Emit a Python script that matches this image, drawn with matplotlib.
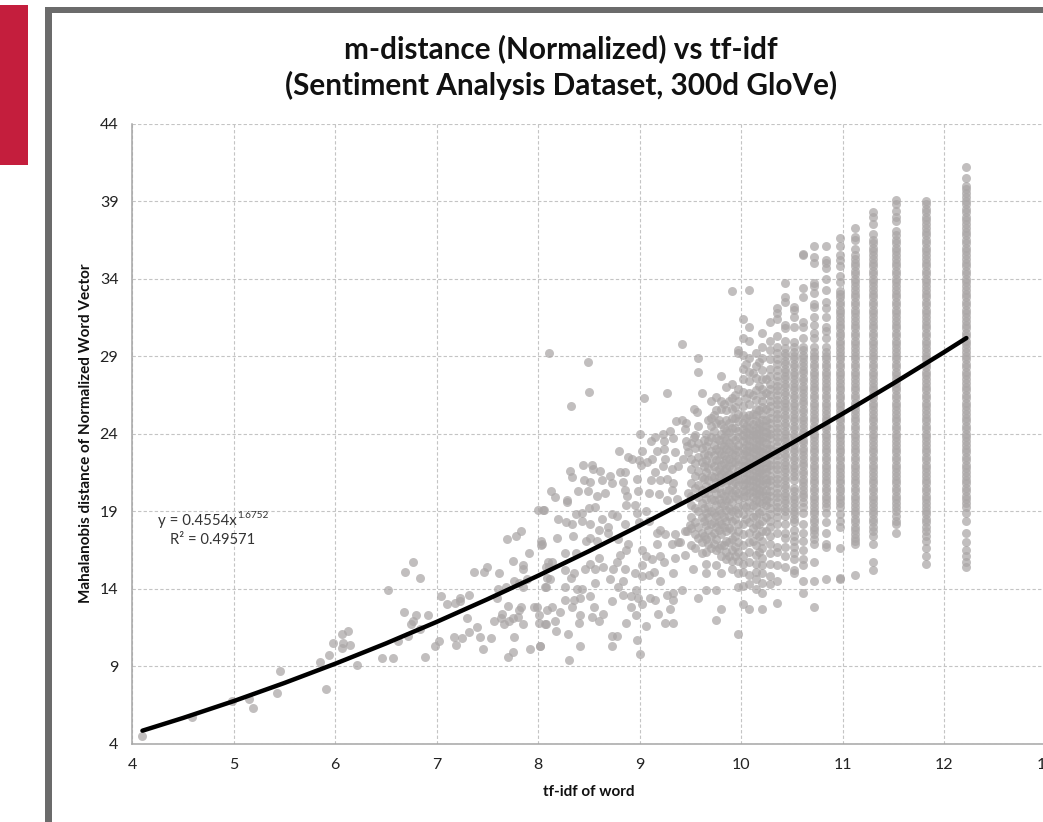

import matplotlib

matplotlib.use("Agg")

import matplotlib.pyplot as plt
from matplotlib.patches import Rectangle

W, H = 1043, 822

x_ticks = [4, 5, 6, 7, 8, 9, 10, 11, 12, 13]
y_ticks = [4, 9, 14, 19, 24, 29, 34, 39, 44]

title = "m-distance (Normalized) vs tf-idf\n(Sentiment Analysis Dataset, 300d GloVe)"
x_label = "tf-idf of word"
y_label = "Mahalanobis distance of Normalized Word Vector"

trend_x = [4.1, 4.5, 5, 5.5, 6, 6.5, 7, 7.5, 8, 8.5, 9, 9.5, 10, 10.5, 11, 11.5, 12, 12.22]
trend_y = [4.84, 5.66, 6.75, 7.92, 9.16, 10.47, 11.86, 13.32, 14.84, 16.42, 18.07, 19.78,
           21.55, 23.39, 25.29, 27.24, 29.26, 30.17]

# discrete tf-idf values on the right, one list of distances each
col_1222 = [41.2, 40.5, 40.0, 39.8, 39.5, 39.3, 39.0, 38.8, 38.5, 38.3, 38.0, 37.8, 37.5, 37.3, 37.0, 36.8, 36.5, 36.3,
            36.0, 35.8, 35.5, 35.3, 35.0, 34.8, 34.5, 34.3, 34.0, 33.8, 33.5, 33.3, 33.0, 32.8, 32.5, 32.3, 32.0, 31.8,
            31.5, 31.3, 31.0, 30.8, 30.5, 30.3, 30.0, 29.8, 29.5, 29.3, 29.0, 28.8, 28.5, 28.3, 28.0, 27.8, 27.5, 27.3,
            27.0, 26.8, 26.5, 26.3, 26.0, 25.8, 25.5, 25.3, 25.0, 24.8, 24.5, 24.3, 24.0, 23.8, 23.5, 23.3, 23.0, 22.8,
            22.5, 22.3, 22.0, 21.8, 21.5, 21.3, 21.0, 20.8, 20.5, 20.3, 20.0, 19.8, 19.5, 19.3, 18.9, 18.4, 17.6, 17.0,
            16.5, 16.1, 15.7, 15.4]
col_1182 = [39.0, 38.8, 38.5, 38.3, 38.0, 37.8, 37.5, 37.3, 37.0, 36.8, 36.5, 36.3, 36.0, 35.8, 35.5, 35.3, 35.0, 34.8,
            34.5, 34.3, 34.0, 33.8, 33.5, 33.3, 33.0, 32.8, 32.5, 32.3, 32.0, 31.8, 31.5, 31.3, 31.0, 30.8, 30.5, 30.3,
            30.0, 29.8, 29.5, 29.3, 29.0, 28.8, 28.5, 28.3, 28.0, 27.8, 27.5, 27.3, 27.0, 26.8, 26.5, 26.3, 26.0, 25.8,
            25.5, 25.3, 25.0, 24.8, 24.5, 24.3, 24.0, 23.8, 23.5, 23.3, 23.0, 22.8, 22.5, 22.3, 22.0, 21.8, 21.5, 21.3,
            21.0, 20.8, 20.5, 20.3, 20.0, 19.8, 19.5, 19.3, 19.0, 18.8, 18.5, 18.3, 18.0, 17.7, 17.4, 17.1, 16.6, 16.1, 15.6]
col_1153 = [39.1, 38.8, 38.4, 38.0, 37.7, 37.1, 36.8, 36.5, 36.3, 36.0, 35.8, 35.5, 35.3, 35.0, 34.8, 34.5, 34.3, 34.0,
            33.8, 33.5, 33.3, 33.0, 32.8, 32.5, 32.3, 32.0, 31.8, 31.5, 31.3, 31.0, 30.8, 30.5, 30.3, 30.0, 29.8, 29.5,
            29.3, 29.0, 28.8, 28.5, 28.3, 28.0, 27.8, 27.5, 27.3, 27.0, 26.8, 26.5, 26.3, 26.0, 25.8, 25.5, 25.3, 25.0,
            24.8, 24.5, 24.3, 24.0, 23.8, 23.5, 23.3, 23.0, 22.8, 22.5, 22.3, 22.0, 21.8, 21.5, 21.3, 21.0, 20.8, 20.5,
            20.3, 20.0, 19.8, 19.5, 19.3, 19.0, 18.7, 18.4, 18.2, 17.6]
col_1130 = [38.3, 38.0, 37.5, 36.9, 36.5, 36.3, 36.0, 35.8, 35.5, 35.3, 35.0, 34.8, 34.5, 34.3, 34.0, 33.8, 33.5, 33.3,
            33.0, 32.8, 32.5, 32.3, 32.0, 31.8, 31.5, 31.3, 31.0, 30.8, 30.5, 30.3, 30.0, 29.8, 29.5, 29.3, 29.0, 28.8,
            28.5, 28.3, 28.0, 27.8, 27.5, 27.3, 27.0, 26.8, 26.5, 26.3, 26.0, 25.8, 25.5, 25.3, 25.0, 24.8, 24.5, 24.3,
            24.0, 23.8, 23.5, 23.3, 23.0, 22.8, 22.5, 22.3, 22.0, 21.8, 21.5, 21.3, 21.0, 20.8, 20.5, 20.3, 20.0, 19.8,
            19.5, 19.3, 19.0, 18.8, 18.5, 18.3, 18.0, 17.7, 17.4, 16.9, 15.7, 15.2]
col_1112 = [37.3, 36.7, 36.5, 35.9, 35.5, 35.3, 35.0, 34.8, 34.5, 34.3, 34.0, 33.8, 33.5, 33.3, 33.0, 32.8, 32.5, 32.3,
            32.0, 31.8, 31.5, 31.3, 31.0, 30.8, 30.5, 30.3, 30.0, 29.8, 29.5, 29.3, 29.0, 28.8, 28.5, 28.3, 28.0, 27.8,
            27.5, 27.3, 27.0, 26.8, 26.5, 26.3, 26.0, 25.8, 25.5, 25.3, 25.0, 24.8, 24.5, 24.3, 24.0, 23.8, 23.5, 23.3,
            23.0, 22.8, 22.5, 22.3, 22.0, 21.8, 21.5, 21.3, 21.0, 20.8, 20.5, 20.3, 20.0, 19.8, 19.5, 19.3, 19.0, 18.8,
            18.5, 18.3, 18.0, 17.8, 17.5, 17.3, 17.1, 16.9, 14.9]
col_1097 = [36.6, 36.1, 35.5, 35.2, 34.8, 34.2, 33.8, 33.2, 33.0, 32.8, 32.5, 32.3, 32.0, 31.8, 31.5, 31.3, 31.0, 30.8,
            30.5, 30.3, 30.0, 29.8, 29.5, 29.3, 29.0, 28.8, 28.5, 28.3, 28.0, 27.8, 27.5, 27.3, 27.0, 26.8, 26.5, 26.3,
            26.0, 25.8, 25.5, 25.3, 25.0, 24.8, 24.5, 24.3, 24.0, 23.8, 23.5, 23.3, 23.0, 22.8, 22.5, 22.3, 22.0, 21.8,
            21.5, 21.3, 21.0, 20.8, 20.5, 20.3, 20.0, 19.8, 19.5, 19.3, 18.8, 18.4, 18.0, 16.6, 14.7, 14.6]
col_1084 = [36.1, 35.2, 35.0, 34.7, 34.0, 33.3, 32.5, 32.1, 31.5, 30.9, 30.6, 30.2, 29.6, 29.3, 29.0, 28.8, 28.5, 28.3,
            28.0, 27.8, 27.5, 27.3, 27.0, 26.8, 26.5, 26.3, 26.0, 25.8, 25.5, 25.3, 25.0, 24.8, 24.5, 24.3, 24.0, 23.8,
            23.5, 23.3, 23.0, 22.8, 22.5, 22.3, 22.0, 21.8, 21.5, 21.3, 21.0, 20.8, 20.5, 20.3, 20.0, 19.8, 19.5, 19.3,
            18.9, 18.3, 17.6, 16.9, 16.7, 14.6]
col_1072 = [36.1, 35.4, 35.0, 33.7, 33.5, 33.1, 32.4, 32.2, 31.5, 31.0, 30.5, 30.2, 29.6, 29.3, 29.0, 28.8, 28.5, 28.3,
            28.0, 27.8, 27.5, 27.3, 27.0, 26.8, 26.5, 26.3, 26.0, 25.8, 25.5, 25.3, 25.0, 24.8, 24.5, 24.3, 24.0, 23.8,
            23.5, 23.3, 23.0, 22.8, 22.5, 22.3, 22.0, 21.8, 21.5, 21.3, 21.0, 20.8, 20.5, 20.3, 20.0, 19.8, 19.5, 19.3,
            19.0, 18.8, 18.5, 18.3, 18.0, 17.8, 17.5, 17.2, 16.9, 15.7, 14.5, 12.8]
col_1061 = [35.6, 35.5, 33.4, 32.8, 31.2, 30.9, 30.2, 29.6, 29.4, 29.1, 28.9, 28.6, 28.4, 28.1, 27.9, 27.6, 27.4, 27.1,
            26.9, 26.6, 26.4, 26.1, 25.9, 25.6, 25.4, 25.1, 24.9, 24.6, 24.4, 24.1, 23.9, 23.6, 23.4, 23.1, 22.9, 22.6,
            22.4, 22.1, 21.9, 21.6, 21.4, 21.1, 20.9, 20.6, 20.4, 20.1, 19.9, 19.6, 19.3, 18.9, 18.2, 17.6, 17.1, 16.5,
            15.9, 15.5, 14.5, 13.7]
col_1052 = [32.2, 32.0, 31.5, 30.9, 29.9, 29.6, 29.3, 29.0, 28.8, 28.5, 28.3, 28.0, 27.8, 27.5, 27.3, 27.0, 26.8, 26.5,
            26.3, 26.0, 25.8, 25.5, 25.3, 25.0, 24.8, 24.5, 24.3, 24.0, 23.8, 23.5, 23.3, 23.0, 22.8, 22.5, 22.3, 22.0,
            21.8, 21.5, 21.3, 21.0, 20.5, 20.3, 20.0, 19.8, 19.5, 19.3, 19.0, 18.8, 18.5, 18.3, 17.8, 17.4, 17.1, 16.7,
            16.3, 15.9, 15.2, 15.0]
col_1043 = [33.7, 32.8, 32.5, 31.0, 30.8, 30.0, 29.5, 29.2, 29.0, 28.7, 28.5, 28.2, 28.0, 27.7, 27.5, 27.2, 27.0, 26.7,
            26.5, 26.2, 26.0, 25.7, 25.5, 25.2, 25.0, 24.7, 24.5, 24.2, 24.0, 23.7, 23.5, 23.2, 23.0, 22.7, 22.5, 22.2,
            22.0, 21.7, 21.5, 21.2, 21.0, 20.7, 20.5, 20.2, 20.0, 19.7, 19.5, 19.2, 19.0, 18.7, 18.2, 17.6, 17.3, 16.7,
            16.1, 15.4]
col_1035 = [32.1, 31.8, 31.4, 30.3, 29.6, 29.2, 28.8, 28.5, 28.1, 27.7, 27.4, 27.1, 26.8, 26.5, 26.2, 25.9, 25.6, 25.3,
            25.0, 24.7, 24.4, 24.1, 23.8, 23.5, 23.2, 22.9, 22.6, 22.3, 22.0, 21.7, 21.4, 21.1, 20.8, 20.5, 20.2, 19.9,
            19.6, 19.3, 19.0, 18.6, 18.2, 17.6, 16.7, 16.4, 15.5, 14.5, 13.1]
col_1028 = [31.2, 30.0, 29.4, 28.8, 28.2, 27.7, 27.2, 26.9, 26.5, 26.1, 25.8, 25.4, 25.0, 24.7, 24.3, 24.0, 23.7, 23.3,
            23.0, 22.7, 22.3, 22.0, 21.7, 21.3, 21.0, 20.7, 20.3, 20.0, 19.6, 19.2, 18.8, 18.4, 18.0, 17.4, 16.9, 16.3,
            15.6, 14.8, 14.3]
col_1025 = [27.5, 26.6, 25.6, 24.9, 24.5, 24.1, 23.8, 23.4, 23.0, 22.6, 22.2, 21.8, 21.5, 21.1, 20.8, 20.4, 20.0, 19.7,
            19.4, 18.6, 17.7]
col_1021 = [30.5, 29.6, 28.9, 28.1, 27.5, 26.9, 26.5, 26.1, 25.7, 25.3, 24.9, 24.5, 24.2, 23.8, 23.5, 23.1, 22.8, 22.4,
            22.1, 21.7, 21.4, 21.0, 20.7, 20.3, 20.0, 19.5, 19.0, 18.4, 17.7, 17.1, 16.6, 16.0, 15.5, 15.0, 14.4, 13.7, 12.7]
col_1018 = [28.6, 27.1, 25.5, 24.7, 24.3, 24.0, 23.6, 23.3, 22.9, 22.5, 22.2, 21.8, 21.5, 21.2, 20.8, 20.4, 20.1, 19.6,
            18.9, 18.2, 17.4, 16.4]
col_1015 = [29.2, 28.4, 27.6, 26.8, 26.2, 25.6, 25.2, 24.8, 24.4, 24.0, 23.7, 23.3, 23.0, 22.6, 22.3, 21.9, 21.6, 21.2,
            20.9, 20.5, 20.1, 19.7, 19.3, 18.7, 18.1, 17.5, 16.8, 16.2, 15.6, 15.1, 14.6, 14.0]
col_1012 = [27.9, 26.5, 25.3, 24.6, 24.2, 23.9, 23.5, 23.1, 22.8, 22.4, 22.0, 21.7, 21.3, 21.0, 20.6, 20.3, 19.9, 19.4,
            18.6, 17.9, 17.1]
col_1008 = [33.3, 30.9, 30.0, 28.9, 28.0, 27.4, 26.6, 25.9, 25.2, 24.8, 24.4, 24.0, 23.6, 23.2, 22.9, 22.5, 22.1, 21.8,
            21.4, 21.0, 20.6, 20.2, 19.6, 19.0, 18.3, 17.6, 17.0, 16.4, 15.7, 14.9, 14.3, 12.7]
col_1005 = [28.5, 26.3, 25.0, 24.5, 24.1, 23.7, 23.3, 22.9, 22.6, 22.2, 21.9, 21.5, 21.1, 20.8, 20.4, 20.0, 19.3, 18.5]
col_1002 = [31.4, 30.2, 29.1, 28.2, 27.5, 26.7, 25.8, 25.2, 24.7, 24.3, 23.9, 23.5, 23.1, 22.7, 22.3, 21.9, 21.5, 21.1,
            20.7, 20.3, 19.9, 19.4, 18.8, 18.2, 17.5, 16.8, 16.1, 15.6, 15.1, 14.2, 13.0]
col_997 = [29.4, 29.2, 26.9, 26.1, 25.3, 24.8, 24.2, 23.8, 23.3, 22.9, 22.4, 22.0, 21.6, 21.1, 20.7, 20.2, 19.8, 19.3,
           18.9, 18.2, 17.7, 17.0, 16.4, 15.8, 15.0, 14.1, 11.1]
col_994 = [26.5, 25.7, 25.0, 24.4, 23.6, 23.0, 22.6, 22.2, 21.3, 20.9, 20.4, 20.0, 19.1, 18.5, 17.4, 16.7, 16.1]
col_991 = [33.2, 27.2, 26.3, 25.6, 25.0, 24.4, 23.8, 23.2, 22.7, 22.2, 21.7, 21.2, 20.7, 20.2, 19.6, 19.0,
           18.4, 17.8, 17.2, 16.5, 15.8, 15.3]
col_988 = [26.1, 24.7, 24.1, 23.4, 22.9, 22.4, 21.9, 21.4, 21.0, 20.4, 19.8, 19.2, 18.7, 17.9, 17.0, 16.1]
col_985 = [27.0, 25.5, 24.9, 24.2, 23.6, 23.0, 22.4, 21.8, 21.3, 20.8, 20.3, 19.7, 19.1, 18.4, 17.7, 17.1, 16.4, 15.9]
col_983 = [25.9, 24.4, 23.8, 23.2, 22.6, 22.1, 21.6, 21.0, 20.0, 19.4, 18.6, 18.0, 16.8]
col_980 = [27.7, 26.1, 25.6, 24.6, 24.0, 23.3, 22.7, 22.0, 21.4, 20.9, 20.2, 19.5, 18.9, 18.2, 17.5, 16.8, 16.1, 15.0, 12.7]
col_978 = [24.9, 23.6, 22.9, 22.3, 21.7, 21.2, 20.5, 19.8, 19.1, 18.4, 17.8, 16.6]
col_975 = [26.4, 25.5, 24.7, 23.7, 23.0, 22.3, 21.6, 20.9, 20.1, 19.4, 18.7, 18.0, 17.2, 16.5, 15.5, 13.9, 12.0]
col_973 = [25.2, 24.2, 23.3, 22.6, 21.9, 21.2, 20.5, 19.7, 18.9, 18.3, 17.6, 16.9]
col_970 = [26.1, 25.0, 24.5, 23.8, 22.9, 22.1, 21.3, 20.5, 19.8, 19.0, 18.2, 17.4, 16.6]
col_967 = [24.9, 23.5, 22.6, 21.8, 21.0, 20.2, 19.3, 18.6, 17.8, 16.9]
col_965 = [24.0, 23.2, 22.3, 21.5, 20.6, 19.8, 18.9, 18.1, 17.2, 16.4, 15.6, 15.0, 13.9]
col_963 = [23.6, 22.7, 21.9, 21.1, 20.2, 19.2, 18.4, 17.4]
col_961 = [26.6, 23.1, 22.2, 21.2, 20.4, 19.5, 18.6, 17.6, 17.0, 16.3]
col_958 = [24.5, 23.4, 22.5, 21.6, 20.7, 19.9, 19.0, 18.0, 17.3]
col_955 = [23.9, 23.1, 22.1, 21.3, 20.5, 19.2, 18.3, 17.5, 16.6]
col_951 = [23.4, 22.4, 21.7, 20.8, 20.0, 19.4, 18.6, 17.9, 16.8]

column_x = [12.22, 11.82, 11.53, 11.30, 11.12, 10.97, 10.84, 10.72, 10.61, 10.52, 10.43, 10.35, 10.28, 10.25, 10.21,
            10.18, 10.15, 10.12, 10.08, 10.05, 10.02, 9.97, 9.94, 9.91, 9.88, 9.85, 9.83, 9.80, 9.78, 9.75, 9.73, 9.70,
            9.67, 9.65, 9.63, 9.61, 9.58, 9.55, 9.51]
column_y = [col_1222, col_1182, col_1153, col_1130, col_1112, col_1097, col_1084, col_1072, col_1061, col_1052,
            col_1043, col_1035, col_1028, col_1025, col_1021, col_1018, col_1015, col_1012, col_1008, col_1005,
            col_1002, col_997, col_994, col_991, col_988, col_985, col_983, col_980, col_978, col_975, col_973,
            col_970, col_967, col_965, col_963, col_961, col_958, col_955, col_951]

# scattered words further left
cloud_x = [4.10, 4.59, 4.98, 5.15, 5.19, 5.43, 5.46, 5.85, 5.91, 5.94, 5.98, 6.07, 6.08, 6.07, 6.13, 6.15,
           6.21, 6.46, 6.57, 6.52, 6.69, 6.77, 6.84, 6.68, 6.80, 6.91, 6.75, 6.77, 6.62, 6.72, 6.84, 6.88,
           6.98, 7.02, 7.04, 7.10, 7.18, 7.23, 7.23, 7.32, 7.30, 7.40, 7.32, 7.17, 7.25, 7.19, 7.43, 7.46,
           7.54, 7.37, 7.47, 7.50, 7.61, 7.60, 7.68, 7.59, 7.69, 7.78, 7.83, 7.76, 7.81, 7.75, 7.89, 7.85,
           7.85, 7.85, 7.91, 7.70, 7.83, 7.81, 7.64, 7.63, 7.56, 7.66, 7.71, 7.75, 7.80, 7.85, 7.96, 7.99,
           8.01, 8.09, 8.01, 8.08, 7.76, 7.92, 8.02, 7.75, 7.70, 8.00, 8.06, 8.03, 8.03, 8.10, 8.08, 8.09,
           8.08, 8.11, 8.49, 8.50, 8.32, 8.13, 8.17, 8.28, 8.39, 8.49, 8.58, 8.66, 8.86, 8.88, 8.98, 8.44,
           8.53, 8.54, 8.61, 8.31, 8.33, 8.45, 8.51, 8.63, 8.71, 8.73, 8.81, 8.86, 8.84, 8.97, 8.80, 8.89,
           8.92, 8.99, 9.01, 8.87, 8.95, 8.50, 8.56, 8.05, 8.28, 8.20, 8.27, 8.33, 8.37, 8.43, 8.43, 8.51,
           8.63, 8.73, 8.78, 8.60, 8.69, 8.86, 8.97, 9.06, 8.99, 9.09, 8.19, 8.34, 8.47, 8.51, 8.58, 8.79,
           8.69, 8.89, 8.87, 9.02, 9.17, 8.26, 8.37, 8.04, 8.14, 8.11, 8.26, 8.46, 8.51, 8.56, 8.60, 8.64,
           8.74, 8.86, 8.95, 9.02, 9.06, 9.12, 9.20, 9.24, 9.14, 9.02, 9.20, 8.81, 8.78, 8.35, 8.32, 8.12,
           8.07, 8.26, 8.38, 8.43, 8.56, 8.71, 8.79, 8.84, 8.26, 8.35, 8.41, 8.51, 8.73, 8.84, 8.91, 8.96,
           8.98, 9.10, 9.15, 9.27, 9.33, 9.33, 9.42, 9.58, 8.14, 8.22, 8.33, 8.41, 8.55, 8.64, 8.53, 8.60,
           8.91, 9.02, 8.96, 9.18, 9.30, 8.07, 8.17, 8.40, 8.87, 9.06, 9.25, 9.33, 8.18, 8.29, 8.73, 8.78,
           8.97, 8.41, 8.73, 8.02, 9.00, 8.30, 9.42, 9.58, 9.58, 9.27, 9.04, 9.54, 9.57, 9.36, 9.42, 9.46,
           9.45, 9.00, 9.15, 9.23, 9.30, 9.11, 9.24, 9.33, 9.46, 9.54, 9.02, 9.17, 9.24, 9.35, 9.47, 9.48,
           9.07, 9.12, 9.25, 9.43, 9.15, 9.23, 9.32, 9.38, 9.11, 9.20, 9.27, 9.33, 9.32, 9.27, 9.37, 9.48,
           9.19, 9.09, 9.35, 9.38, 9.40, 9.45, 9.47, 9.50, 9.25, 9.20, 9.32, 9.45, 9.35, 9.53, 9.33, 9.17, 9.09]
cloud_y = [4.5, 5.7, 6.75, 6.9, 6.3, 7.3, 8.7, 9.25, 7.5, 9.7, 10.5, 10.15, 10.5, 11.1, 11.3, 10.4,
           9.1, 9.5, 9.5, 13.9, 15.1, 15.7, 14.7, 12.5, 12.3, 12.3, 11.7, 11.9, 10.6, 10.95, 11.4, 9.6,
           10.3, 10.6, 13.5, 13.0, 13.1, 13.4, 13.2, 13.6, 12.1, 11.55, 11.2, 10.9, 10.8, 10.4, 10.9, 10.1,
           10.8, 15.1, 15.1, 15.4, 15.0, 14.0, 14.1, 13.4, 17.2, 17.4, 17.7, 14.5, 14.4, 15.8, 14.6, 15.5,
           15.3, 14.1, 16.3, 12.9, 12.8, 12.6, 12.4, 12.1, 11.9, 11.7, 11.9, 12.1, 12.2, 11.7, 12.8, 12.8,
           12.3, 12.6, 11.8, 11.7, 10.9, 10.1, 10.3, 9.9, 9.6, 19.1, 19.1, 17.1, 16.8, 15.7, 15.4, 14.7,
           14.1, 29.2, 28.6, 26.7, 25.8, 20.3, 19.9, 19.7, 20.3, 20.3, 20.0, 20.2, 20.4, 20.0, 20.3, 22.0,
           22.0, 21.7, 21.6, 21.6, 21.2, 21.0, 20.9, 21.0, 21.3, 20.8, 21.5, 21.5, 20.9, 21.1, 22.9, 22.5,
           22.4, 22.3, 22.0, 19.4, 19.4, 19.2, 19.3, 19.1, 19.6, 18.5, 18.3, 18.2, 18.8, 18.9, 18.4, 18.2,
           18.5, 18.8, 18.7, 17.8, 18.0, 18.2, 18.9, 19.0, 18.3, 18.4, 17.3, 17.4, 17.1, 17.3, 17.1, 17.2,
           17.6, 16.9, 16.5, 16.5, 16.9, 16.3, 16.3, 16.9, 15.7, 15.4, 15.2, 15.3, 15.6, 15.3, 16.0, 15.4,
           15.3, 15.3, 15.0, 15.5, 16.1, 15.9, 16.1, 15.7, 15.1, 14.8, 14.5, 16.2, 15.7, 15.0, 14.7, 14.6,
           14.1, 14.1, 14.0, 14.0, 14.4, 14.6, 14.1, 14.5, 13.3, 13.3, 13.4, 13.5, 13.2, 13.6, 13.5, 13.9,
           13.4, 13.4, 13.3, 13.6, 13.7, 13.3, 13.9, 13.4, 12.8, 12.5, 12.8, 12.3, 12.8, 12.4, 12.2, 11.9,
           12.8, 13.0, 12.3, 12.4, 12.7, 11.7, 11.9, 11.8, 11.8, 11.6, 11.8, 11.8, 11.3, 11.1, 10.95, 10.95,
           10.7, 10.3, 10.3, 10.3, 9.8, 9.4, 29.8, 28.9, 28.0, 26.6, 26.3, 25.6, 25.4, 24.8, 24.9, 24.7,
           24.3, 24.0, 23.8, 24.0, 24.2, 23.5, 23.5, 23.7, 23.5, 23.8, 22.9, 22.9, 23.0, 22.8, 23.2, 22.8,
           22.2, 22.4, 22.4, 22.4, 21.5, 21.9, 21.7, 21.9, 21.0, 21.0, 21.1, 20.8, 20.4, 19.7, 19.8, 20.2,
           20.1, 20.2, 17.5, 17.0, 17.0, 17.7, 17.7, 18.1, 17.5, 17.8, 16.9, 16.2, 15.96, 15.3, 15.0, 17.6, 14.9]

fig = plt.figure(figsize=(W / 100, H / 100), dpi=100, facecolor="white")
plt.rcParams["font.family"] = ["Lato", "DejaVu Sans"]

# page furniture around the chart
fig.add_artist(Rectangle((0, 1 - 165 / H), 28 / W, 160 / H, transform=fig.transFigure,
                         facecolor="#c41e3d", edgecolor="none", zorder=-3))
fig.add_artist(Rectangle((45 / W, -0.1), 1.1, 0.1 + (H - 7.5) / H, transform=fig.transFigure,
                         facecolor="#6b6b6b", edgecolor="none", zorder=-2))
fig.add_artist(Rectangle((52 / W, -0.1), 1.1, 0.1 + (H - 13.5) / H, transform=fig.transFigure,
                         facecolor="white", edgecolor="none", zorder=-1))

ax = fig.add_axes([132.3 / W, 1 - 743.7 / H, (1045.5 - 132.3) / W, 620 / H], facecolor="white")

for cx, ys in zip(column_x, column_y):
    ax.scatter([cx] * len(ys), ys, s=42, color="#aaa6a6", alpha=0.72, linewidths=0, zorder=3, clip_on=False)
ax.scatter(cloud_x, cloud_y, s=42, color="#aaa6a6", alpha=0.72, linewidths=0, zorder=3, clip_on=False)
ax.plot(trend_x, trend_y, color="black", lw=3.2, solid_capstyle="round", zorder=4)

ax.set_xlim(4, 13)
ax.set_ylim(4, 44)
ax.set_xticks(x_ticks)
ax.set_yticks(y_ticks)
ax.grid(True, color="#c4c4c4", linestyle=(0, (3, 2)), linewidth=0.8)
ax.set_axisbelow(True)
ax.tick_params(length=0, labelsize=11.5, labelcolor="#222222")
ax.tick_params(axis="x", pad=10)
ax.tick_params(axis="y", pad=10)
for side in ("top", "right"):
    ax.spines[side].set_visible(False)
for side in ("left", "bottom"):
    ax.spines[side].set_color("#a6a6a6")
    ax.spines[side].set_linewidth(1.1)

ax.set_xlabel(x_label, fontsize=11, fontweight="bold", color="#111111")
ax.set_ylabel(y_label, fontsize=11, fontweight="bold", color="#111111")
ax.xaxis.set_label_coords(0.5, -(785 - 743.7) / 620)
ax.yaxis.set_label_coords((93 - 132.3) / 913.2, 0.5)

fig.text(561 / W, 1 - 67 / H, title, ha="center", va="center", fontsize=21.4, fontweight="bold",
         linespacing=1.3, color="#111111")

fig.text(158 / W, 1 - 520.5 / H, "y = 0.4554x", ha="left", va="center", fontsize=10.8, color="#333333")
fig.text(237.5 / W, 1 - 516 / H, "1.6752", ha="left", va="center", fontsize=7.2, color="#333333")
fig.text(170 / W, 1 - 539.5 / H, "R² = 0.49571", ha="left", va="center", fontsize=10.6, color="#333333")

fig.savefig("out.png", dpi=100)
